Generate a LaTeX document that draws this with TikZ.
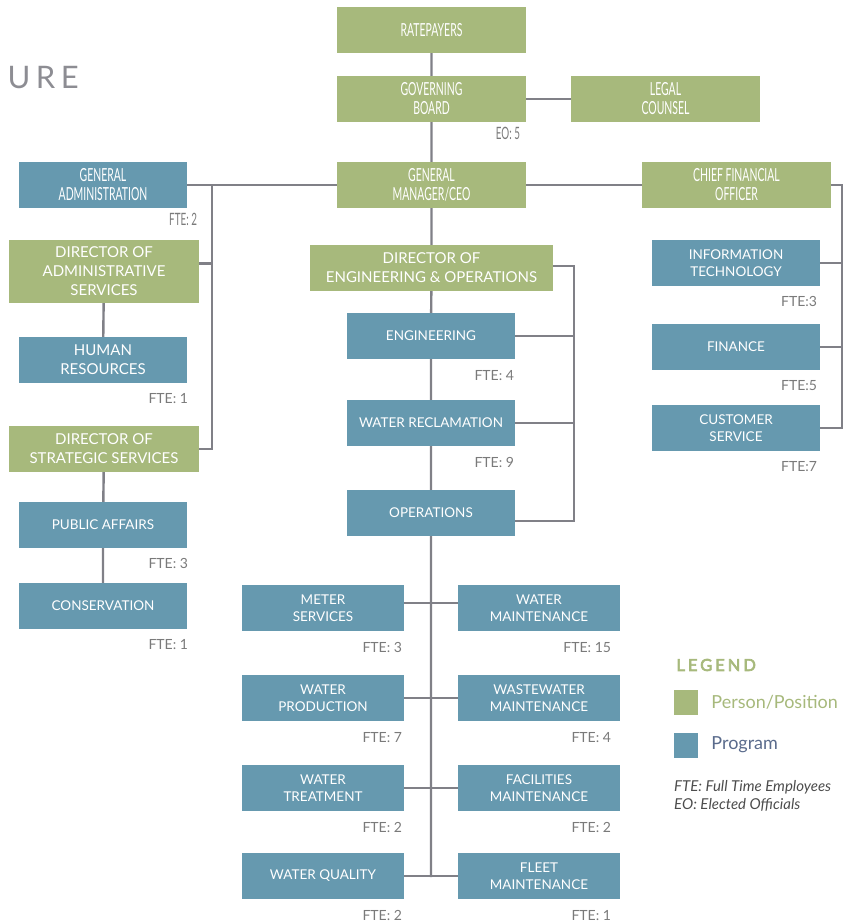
\documentclass[tikz,border=0pt]{standalone}
\usepackage{fontspec}
\setmainfont{Lato}
\newfontfamily\narrowfont[FakeStretch=0.58]{Lato}
\newfontfamily\spacedfont[LetterSpace=18]{Lato}
\newfontfamily\legendfont[FakeBold=4, LetterSpace=18]{Lato}
\usetikzlibrary{positioning}
\definecolor{personclr}{HTML}{A7B97C}
\definecolor{programclr}{HTML}{6699AF}
\definecolor{linkclr}{HTML}{808087}
\definecolor{fteclr}{HTML}{7A7A7A}
\definecolor{legtxt}{HTML}{5A6B8C}
\tikzset{
  box/.style={text=white, align=center, inner sep=0pt, minimum height=46pt,
    font=\fontsize{13.5}{17}\selectfont},
  person/.style={box, fill=personclr, minimum width=189pt},
  program/.style={box, fill=programclr, minimum width=168pt},
  unit/.style={program, minimum width=162pt},
  narrow/.style={font=\narrowfont\fontsize{18}{19}\selectfont},
  large/.style={font=\fontsize{15}{19}\selectfont},
  fte/.style={text=fteclr, anchor=east, inner sep=0pt, font=\fontsize{14}{16}\selectfont},
  link/.style={draw=linkclr, line width=2.4pt},
}
\begin{document}
\begin{tikzpicture}[x=1pt, y=-1pt]
\useasboundingbox (0,0) rectangle (849,922);
\node[anchor=west, text=linkclr!90, font=\spacedfont\fontsize{31}{31}\selectfont] (title) at (4,78) {URE};

% top of the tree
\node[person, narrow] (rate) at (431.5,30) {RATEPAYERS};
\node[person, narrow] (board) at (431.5,99) {GOVERNING\\BOARD};
\node[person, narrow] (legal) at (665.5,99) {LEGAL\\COUNSEL};
\node[person, narrow] (gm) at (431.5,185) {GENERAL\\MANAGER/CEO};
\node[program, narrow] (genadmin) at (103,185) {GENERAL\\ADMINISTRATION};
\node[person, narrow] (cfo) at (736.5,185) {CHIEF FINANCIAL\\OFFICER};

% left column
\node[person, large, minimum width=190pt, minimum height=63pt] (diradmin) at (104,271.5) {DIRECTOR OF\\ADMINISTRATIVE\\SERVICES};
\node[program, large] (hr) at (103,360) {HUMAN\\RESOURCES};
\node[person, large, minimum width=190pt] (dirstrat) at (104,449) {DIRECTOR OF\\STRATEGIC SERVICES};
\node[program] (pubaff) at (103,525) {PUBLIC AFFAIRS};
\node[program] (cons) at (103,606) {CONSERVATION};

% middle column
\node[person, large, minimum width=243pt] (direng) at (431.5,268) {DIRECTOR OF\\ENGINEERING \& OPERATIONS};
\node[program] (eng) at (431,336) {ENGINEERING};
\node[program] (wrecl) at (431,423) {WATER RECLAMATION};
\node[program] (ops) at (431,513) {OPERATIONS};

% right column
\node[program] (it) at (736,263) {INFORMATION\\TECHNOLOGY};
\node[program] (fin) at (736,347) {FINANCE};
\node[program] (custserv) at (736,428) {CUSTOMER\\SERVICE};

% operations units
\node[unit] (meter) at (323,608) {METER\\SERVICES};
\node[unit] (wmaint) at (539,608) {WATER\\MAINTENANCE};
\node[unit] (wprod) at (323,698) {WATER\\PRODUCTION};
\node[unit] (wwmaint) at (539,698) {WASTEWATER\\MAINTENANCE};
\node[unit] (wtreat) at (323,788) {WATER\\TREATMENT};
\node[unit] (facil) at (539,788) {FACILITIES\\MAINTENANCE};
\node[unit] (wqual) at (323,876) {WATER QUALITY};
\node[unit] (fleet) at (539,876) {FLEET\\MAINTENANCE};

% connectors
\coordinate (lspine) at (212,186);
\coordinate (rspine) at (842,185);
\coordinate (bracket) at (574,266);
\coordinate (opsend) at (431,877);
\draw[link] (rate) -- (board) -- (gm) -- (direng) -- (eng) -- (wrecl) -- (ops) -- (opsend);
\draw[link] (board) -- (legal);
\draw[link] (genadmin.east) -- (gm.west) (gm.east) -- (cfo.west);
\draw[link] (lspine) |- (dirstrat.east);
\draw[link] ([yshift=8pt]diradmin.east) -| (lspine);
\draw[link] (diradmin) -- (hr) (dirstrat) -- (pubaff) -- (cons);
\draw[link] (cfo.east) -- (rspine) |- (custserv.east);
\draw[link] (it.east) -- (rspine |- it.east) (fin.east) -- (rspine |- fin.east);
\draw[link] (direng.east |- bracket) -- (bracket) |- ([yshift=-8pt]ops.east);
\draw[link] (eng.east) -- (bracket |- eng.east) (wrecl.east) -- (bracket |- wrecl.east);
\draw[link] ([yshift=5pt]meter.east) -- ([yshift=5pt]wmaint.west);
\draw[link] (wprod) -- (wwmaint) (wtreat) -- (facil) (wqual) -- (fleet);

% staff counts
\node[fte, font=\narrowfont\fontsize{17}{18}\selectfont] at ([shift={(-6pt,-11pt)}]board.south east) {EO: 5};
\node[fte, font=\narrowfont\fontsize{17}{18}\selectfont] at ([shift={(10pt,-11pt)}]genadmin.south east) {FTE: 2};
\foreach \n/\t in {hr/1, pubaff/3, cons/1}
  \node[fte] at ([shift={(1pt,-15pt)}]\n.south east) {FTE: \t};
\foreach \n/\t in {eng/4, wrecl/9}
  \node[fte] at ([shift={(-1pt,-16pt)}]\n.south east) {FTE: \t};
\foreach \n/\t in {it/3, fin/5, custserv/7}
  \node[fte] at ([shift={(-3pt,-15pt)}]\n.south east) {FTE:\t};
\foreach \n/\t in {meter/3, wprod/7, wtreat/2, wqual/2}
  \node[fte] at ([shift={(-2pt,-16pt)}]\n.south east) {FTE: \t};
\foreach \n/\t in {wmaint/15, wwmaint/4, facil/2, fleet/1}
  \node[fte] at ([shift={(-9pt,-16pt)}]\n.south east) {FTE: \t};

% legend
\node[anchor=west, text=personclr, font=\legendfont\fontsize{16.5}{16.5}\selectfont] (legend) at (673,665) {LEGEND};
\node[fill=personclr, minimum width=24pt, minimum height=25pt, inner sep=0pt] (legperson) at (686,702.5) {};
\node[fill=programclr, minimum width=24pt, minimum height=25pt, inner sep=0pt] (legprogram) at (686,745) {};
\node[right=13pt of legperson, inner sep=0pt, text=personclr, font=\fontsize{18}{20}\selectfont] {Person/Position};
\node[right=13pt of legprogram, inner sep=0pt, text=legtxt, font=\fontsize{18}{20}\selectfont] {Program};
\node[anchor=north west, inner sep=0pt, align=left, text=black!70, font=\itshape\fontsize{15}{18}\selectfont] (notes) at (674,780) {FTE: Full Time Employees\\EO: Elected Officials};
\end{tikzpicture}
\end{document}
